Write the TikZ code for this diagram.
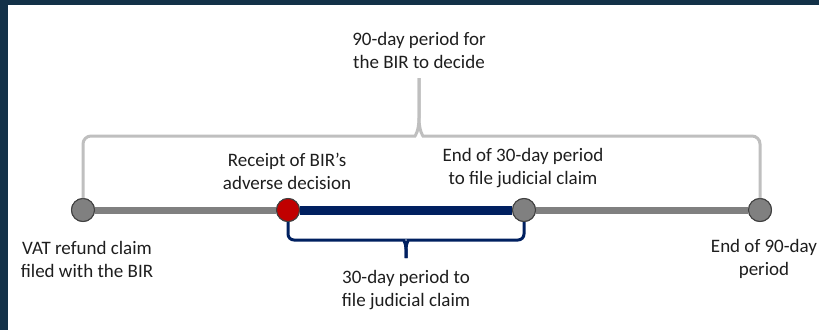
\documentclass[tikz,border=0pt]{standalone}
\usepackage{fontspec}
\setmainfont{Carlito}
\definecolor{framec}{RGB}{19,49,72}
\definecolor{navy}{RGB}{0,32,96}
\definecolor{dotgrey}{RGB}{128,128,128}
\definecolor{dotedge}{RGB}{64,64,64}
\definecolor{redfill}{RGB}{192,0,0}
\definecolor{lightbr}{RGB}{191,191,191}
\definecolor{txt}{RGB}{30,30,30}
\tikzset{
  dot/.style={circle, draw=dotedge, line width=1pt, fill=dotgrey, minimum size=23pt, inner sep=0pt},
  reddot/.style={dot, fill=redfill},
  greyline/.style={draw=dotgrey, line width=7pt},
  navyline/.style={draw=navy, line width=9pt},
  bigbr/.style={draw=lightbr, line width=3pt},
  smallbr/.style={draw=navy, line width=3pt},
  lbl/.style={align=center, text=txt, inner sep=0pt, font=\fontsize{19}{23}\selectfont}
}
\begin{document}
\begin{tikzpicture}[x=1pt,y=-1pt]
\fill[framec] (0,0) rectangle (819,330);
\fill[white] (8,5) rectangle (819,330);
\useasboundingbox (0,0) rectangle (819,330);
% dots
\node[dot] (c1) at (83,210) {};
\node[reddot] (c2) at (288,210) {};
\node[dot] (c3) at (524,210) {};
\node[dot] (c4) at (760,210) {};
% lines
\draw[greyline] (c1) -- (c2);
\draw[navyline] (c2) -- (c3);
\draw[greyline] (c3) -- (c4);
% redraw dots on top
\node[dot] at (c1) {};
\node[reddot] at (c2) {};
\node[dot] at (c3) {};
\node[dot] at (c4) {};
% big bracket
\coordinate (top) at (419,78);
\draw[bigbr] (c1.north) [rounded corners=8] |- (407,136) [sharp corners] .. controls (415,136) and (419,131) .. (419,118) -- (top);
\draw[bigbr] (c4.north) [rounded corners=8] |- (431,136) [sharp corners] .. controls (423,136) and (419,131) .. (419,118) -- (top);
% small bracket
\coordinate (stip) at (406,258);
\draw[smallbr] (c2.south) [rounded corners=6] |- (398,240) [sharp corners] .. controls (403,240) and (406,243) .. (406,249) -- (stip);
\draw[smallbr] (c3.south) [rounded corners=6] |- (414,240) [sharp corners] .. controls (409,240) and (406,243) .. (406,249) -- (stip);
% labels
\node[lbl] (t90) at (419,50) {90-day period for\\the BIR to decide};
\node[lbl] (trec) at (287,171) {Receipt of BIR’s\\adverse decision};
\node[lbl] (tend30) at (523,168) {End of 30-day period\\to file judicial claim};
\node[lbl] (tvat) at (87,259) {VAT refund claim\\filed with the BIR};
\node[lbl] (t30) at (406,290) {30-day period to\\file judicial claim};
\node[lbl] (tend90) at (764,259) {End of 90-day\\period};
\end{tikzpicture}
\end{document}
